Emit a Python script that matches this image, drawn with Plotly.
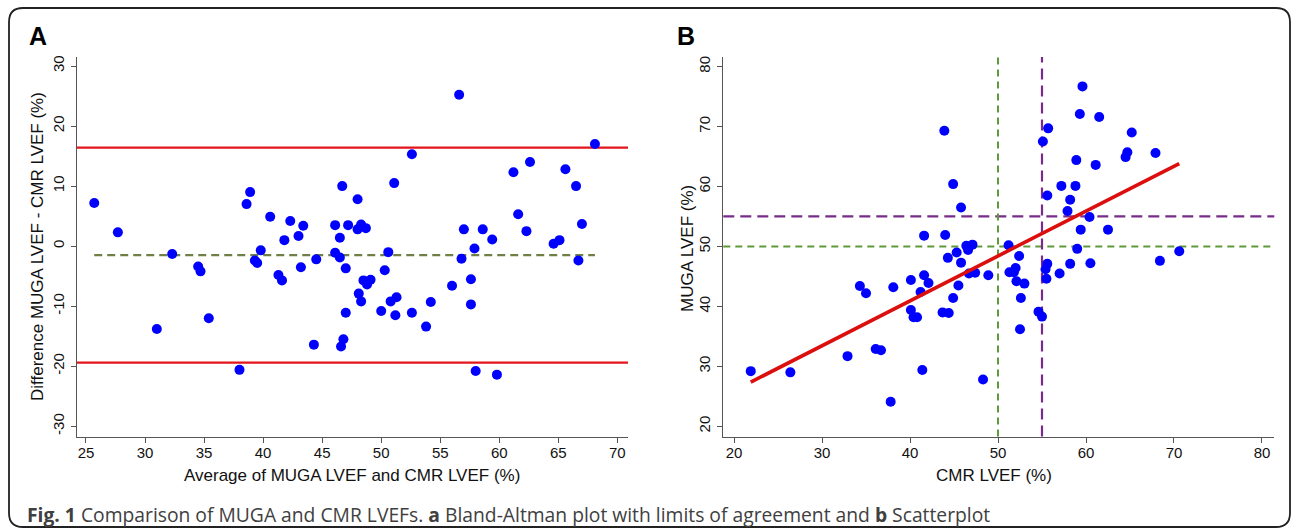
import plotly.graph_objects as go

W, H = 1292, 532

# ---------------- Panel A: Bland-Altman ----------------
ba_avg = [25.7, 27.7, 31.0, 32.3, 34.5, 34.7, 35.4, 38.0, 38.6, 38.9,
          39.3, 39.5, 39.8, 40.6, 41.3, 41.6, 41.8, 42.3, 43.0, 43.2,
          43.4, 44.3, 44.5, 46.1, 46.1, 46.5, 46.5, 46.6, 46.7, 46.8,
          47.0, 47.0, 47.2, 48.0, 48.0, 48.1, 48.3, 48.3, 48.5, 48.8,
          48.7, 49.1, 50.0, 50.3, 50.6, 50.8, 51.1, 51.2, 51.3, 52.6,
          52.6, 53.8, 54.2, 56.0, 56.6, 56.8, 57.0, 57.6, 57.6, 57.9,
          58.0, 58.6, 59.4, 59.8, 61.2, 61.6, 62.3, 62.6, 64.6, 65.1,
          65.6, 66.5, 66.7, 67.0, 68.1]
ba_diff = [7.2, 2.3, -13.8, -1.3, -3.4, -4.2, -12.0, -20.6, 7.0, 9.0,
           -2.4, -2.8, -0.7, 4.9, -4.8, -5.7, 1.0, 4.2, 1.7, -3.5,
           3.4, -16.4, -2.2, 3.5, -1.1, -1.9, 1.4, -16.7, 10.0, -15.5,
           -3.7, -11.1, 3.5, 7.8, 2.8, -7.9, -9.2, 3.6, -5.7, -6.4,
           3.0, -5.6, -10.8, -4.0, -1.0, -9.2, 10.5, -11.5, -8.5, -11.1,
           15.3, -13.4, -9.3, -6.6, 25.2, -2.1, 2.8, -5.5, -9.7, -0.4,
           -20.8, 2.8, 1.1, -21.4, 12.3, 5.3, 2.5, 14.0, 0.4, 1.0,
           12.8, 10.0, -2.4, 3.7, 17.0]
ba_mean = -1.5
ba_loa_upper = 16.4
ba_loa_lower = -19.4
a_xticks = [25, 30, 35, 40, 45, 50, 55, 60, 65, 70]
a_yticks = [-30, -20, -10, 0, 10, 20, 30]

# ---------------- Panel B: Scatterplot ----------------
cmr = [21.9, 26.4, 32.9, 34.3, 35.0, 36.1, 36.7, 37.8, 38.1, 40.1,
       40.1, 40.4, 40.8, 41.2, 41.4, 41.6, 41.6, 42.1, 43.7, 43.9,
       44.0, 44.3, 44.4, 44.9, 44.9, 45.3, 45.5, 45.8, 45.8, 46.4,
       46.6, 46.7, 47.1, 47.4, 48.3, 48.9, 51.2, 51.3, 51.8, 52.0,
       52.1, 52.4, 52.5, 52.6, 53.0, 54.6, 55.0, 55.1, 55.4, 55.5,
       55.6, 55.6, 55.7, 57.0, 57.2, 57.9, 58.2, 58.2, 58.8, 58.9,
       59.0, 59.3, 59.4, 59.6, 60.4, 60.5, 61.1, 61.5, 62.5, 64.5,
       64.7, 65.2, 67.9, 68.4, 70.6]
muga = [29.2, 29.0, 31.7, 43.4, 42.2, 32.9, 32.7, 24.1, 43.2, 44.4,
        39.4, 38.2, 38.2, 42.4, 29.4, 45.2, 51.8, 43.9, 39.0, 69.3,
        51.9, 48.1, 38.9, 41.4, 60.4, 49.0, 43.5, 47.3, 56.5, 50.1,
        49.4, 45.5, 50.3, 45.6, 27.8, 45.2, 50.2, 45.7, 45.7, 46.4,
        44.2, 48.4, 36.2, 41.4, 43.8, 39.1, 38.3, 67.5, 46.2, 44.6,
        47.1, 58.5, 69.7, 45.5, 60.1, 55.9, 57.8, 47.1, 60.1, 64.4,
        49.6, 72.1, 52.8, 76.7, 54.9, 47.2, 63.6, 71.6, 52.8, 64.9,
        65.7, 69.0, 65.6, 47.6, 49.2]
fit_intercept = 10.98
fit_slope = 0.7485
cut_green = 50
cut_purple = 55
b_xticks = [20, 30, 40, 50, 60, 70, 80]
b_yticks = [20, 30, 40, 50, 60, 70, 80]

# ---------------- helpers ----------------
def fx(p):
    return p / W

def fy(p):
    return 1 - p / H

BLUE = "#0000ff"
RED = "#e3141b"
OLIVE = "#6f7f45"
PURPLE = "#782b8a"
GREEN = "#5f9a3a"
AXC = "#555555"

fig = go.Figure()

# Panel A traces
fig.add_trace(go.Scatter(
    x=[min(ba_avg), max(ba_avg)], y=[ba_mean, ba_mean], mode="lines",
    line=dict(color=OLIVE, width=2.2, dash="8px,5px"),
    xaxis="x", yaxis="y", hoverinfo="skip", showlegend=False))
fig.add_trace(go.Scatter(
    x=ba_avg, y=ba_diff, mode="markers",
    marker=dict(color=BLUE, size=10, line=dict(width=0)),
    xaxis="x", yaxis="y", showlegend=False))

# Panel B traces
fig.add_trace(go.Scatter(
    x=cmr, y=muga, mode="markers",
    marker=dict(color=BLUE, size=10, line=dict(width=0)),
    xaxis="x2", yaxis="y2", showlegend=False))
fit_x = [min(cmr), max(cmr)]
fit_y = [fit_intercept + fit_slope * v for v in fit_x]
fig.add_trace(go.Scatter(
    x=fit_x, y=fit_y, mode="lines",
    line=dict(color="#dc0f0f", width=3.6),
    xaxis="x2", yaxis="y2", hoverinfo="skip", showlegend=False))

shapes = []
# Limits of agreement (panel A)
for v in (ba_loa_upper, ba_loa_lower):
    shapes.append(dict(type="line", xref="x domain", yref="y", x0=0, x1=1,
                       y0=v, y1=v, line=dict(color=RED, width=2.4), layer="below"))
# Cut-off lines (panel B)
shapes.append(dict(type="line", xref="x2 domain", yref="y2", x0=0, x1=1,
                   y0=cut_purple, y1=cut_purple,
                   line=dict(color=PURPLE, width=2.2, dash="11px,6px"), layer="below"))
shapes.append(dict(type="line", xref="x2 domain", yref="y2", x0=0, x1=1,
                   y0=cut_green, y1=cut_green,
                   line=dict(color=GREEN, width=2.0, dash="7px,5px"), layer="below"))
shapes.append(dict(type="line", xref="x2", yref="y2 domain", x0=cut_green, x1=cut_green,
                   y0=0, y1=1,
                   line=dict(color=GREEN, width=2.0, dash="7px,5px"), layer="below"))
shapes.append(dict(type="line", xref="x2", yref="y2 domain", x0=cut_purple, x1=cut_purple,
                   y0=0, y1=1,
                   line=dict(color=PURPLE, width=2.2, dash="11px,6px"), layer="below"))

# Rounded border frame
L, T, R, B, rad = 9, 8, 1290, 527, 14
rx, ry = rad / W, rad / H
x0, x1, y0, y1 = fx(L), fx(R), fy(B), fy(T)
path = (f"M {x0+rx},{y1} L {x1-rx},{y1} Q {x1},{y1} {x1},{y1-ry} "
        f"L {x1},{y0+ry} Q {x1},{y0} {x1-rx},{y0} "
        f"L {x0+rx},{y0} Q {x0},{y0} {x0},{y0+ry} "
        f"L {x0},{y1-ry} Q {x0},{y1} {x0+rx},{y1} Z")
shapes.append(dict(type="path", xref="paper", yref="paper", path=path,
                   line=dict(color="#222222", width=1.8), layer="below"))

tickfont = dict(family="Liberation Sans, Arial, sans-serif", size=15, color="#111111")

def axis(domain, rng, ticks, **kw):
    d = dict(domain=domain, range=rng, tickmode="array", tickvals=ticks,
             ticktext=[str(t) for t in ticks],
             showline=True, linecolor=AXC, linewidth=1.3, ticks="outside",
             ticklen=5, tickwidth=1.2, tickcolor=AXC, showgrid=False,
             zeroline=False, tickfont=tickfont, automargin=False)
    d.update(kw)
    return d

ydom = [fy(436.5), fy(57)]
fig.update_layout(
    width=W, height=H,
    margin=dict(l=0, r=0, t=0, b=0, autoexpand=False),
    paper_bgcolor="white", plot_bgcolor="white",
    showlegend=False,
    xaxis=axis([fx(77), fx(628)], [24.24, 70.9], a_xticks, anchor="y",
               ticklabelstandoff=-3),
    yaxis=axis(ydom, [-31.7, 31.5], a_yticks, anchor="x", tickangle=-90,
               ticklabelstandoff=1),
    xaxis2=axis([fx(723.3), fx(1274.3)], [18.78, 81.4], b_xticks, anchor="y2",
                ticklabelstandoff=-3),
    yaxis2=axis(ydom, [18.3, 81.6], b_yticks, anchor="x2", tickangle=-90,
                ticklabelstandoff=1),
    shapes=shapes,
)

FF = "Liberation Sans, Arial, sans-serif"
title_font = dict(family=FF, size=17, color="#111111")

def ann(text, x, y, font, angle=0, xanchor="center"):
    return dict(text=text, x=fx(x), y=fy(y), xref="paper", yref="paper",
                xanchor=xanchor, yanchor="middle", showarrow=False,
                textangle=angle, font=font)

annotations = [
    ann("<b>A</b>", 38, 36, dict(family=FF, size=25, color="#000")),
    ann("<b>B</b>", 686, 36, dict(family=FF, size=25, color="#000")),
    ann("Average of MUGA LVEF and CMR LVEF (%)", 352, 475, title_font),
    ann("Difference MUGA LVEF - CMR LVEF (%)", 37, 247, title_font, angle=-90),
    ann("CMR LVEF (%)", 994, 475, title_font),
    ann("MUGA LVEF (%)", 687, 249, title_font, angle=-90),
    ann("<b>Fig. 1</b> Comparison of MUGA and CMR LVEFs. <b>a</b> Bland-Altman plot with "
        "limits of agreement and <b>b</b> Scatterplot", 25, 514,
        dict(family="Open Sans, sans-serif", size=19.3, color="#404040"), xanchor="left"),
]
fig.update_layout(annotations=annotations)

fig.write_html("out.html", config={"displayModeBar": False},
               post_script="document.body.style.margin='0';document.body.style.overflow='hidden';")
